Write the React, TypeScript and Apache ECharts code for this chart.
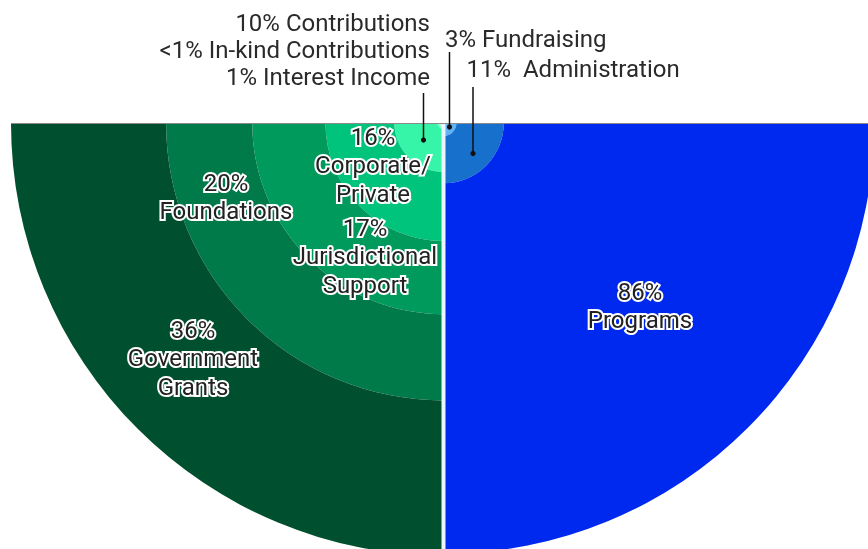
import { useEffect, useRef } from 'react';
import * as echarts from 'echarts';

// ---- data ----
const sides = ['Expenses', 'Revenue', 'Upper left', 'Upper right'];

const revenueNames = ['Interest Income', 'In-kind Contributions', 'Contributions', 'Corporate/\nPrivate', 'Jurisdictional\nSupport', 'Foundations', 'Government\nGrants'];
const revenueValues = [1, 0.4, 10, 16, 17, 20, 36];
const revenuePctText = ['1%', '<1%', '10%', '16%', '17%', '20%', '36%'];

const expenseNames = ['Fundraising', 'Administration', 'Programs'];
const expenseValues = [3, 11, 86];
const expensePctText = ['3%', '11%', '86%'];

// ---- styles / layout ----
const revenueColors = ['#a6ffdc', '#74ffca', '#36f5a8', '#00c47b', '#009a5c', '#007a48', '#00502f'];
const expenseColors = ['#5fb2f4', '#1670cc', '#0029ef'];

const CX = 443.5;
const CY = 123;
const R = 432.5;
const W = 868;
const H = 549;
const FONT = 'Roboto, "Noto Sans", sans-serif';
const FS = 24;

// positions of the labels drawn inside the bands (by series name)
const insideLabelPos: Record<string, [number, number]> = {
  'Corporate/\nPrivate': [373, 165],
  'Jurisdictional\nSupport': [365, 256],
  'Foundations': [226, 197],
  'Government\nGrants': [193, 358],
  'Programs': [640, 306],
};

// callouts: text anchor, alignment, leader line
const callouts: Record<string, { x: number; y: number; align: string; sep: string; line: [number, number, number, number] }> = {
  'Contributions': { x: 430, y: 22.5, align: 'right', sep: ' ', line: [423.5, 93, 423.5, 140] },
  'In-kind Contributions': { x: 430, y: 49.5, align: 'right', sep: ' ', line: [0, 0, 0, 0] },
  'Interest Income': { x: 430, y: 76.5, align: 'right', sep: ' ', line: [0, 0, 0, 0] },
  'Fundraising': { x: 445, y: 38.5, align: 'left', sep: ' ', line: [449.5, 52, 449.5, 127] },
  'Administration': { x: 466.5, y: 68.5, align: 'left', sep: '  ', line: [473, 87, 473, 153.5] },
};

export default function App() {
  const ref = useRef<HTMLDivElement>(null);

  useEffect(() => {
    const chart = echarts.init(ref.current!, null, { renderer: 'svg' });

    const maxTotal = Math.max(
      revenueValues.reduce((a, b) => a + b, 0),
      expenseValues.reduce((a, b) => a + b, 0)
    );

    const makeSeries = (names: string[], values: number[], colors: string[], side: string) =>
      names.map((n, i) => ({
        type: 'bar',
        coordinateSystem: 'polar',
        name: n,
        stack: 'total',
        barCategoryGap: '0%',
        silent: true,
        data: sides.map((s) => (s === side ? values[i] : '-')),
        itemStyle: { color: colors[i] },
      }));

    const series = [
      ...makeSeries(revenueNames, revenueValues, revenueColors, 'Revenue'),
      ...makeSeries(expenseNames, expenseValues, expenseColors, 'Expenses'),
    ];

    const allNames = [...revenueNames, ...expenseNames];
    const allPct = [...revenuePctText, ...expensePctText];

    const graphics: any[] = [
      {
        type: 'rect',
        z: 50,
        shape: { x: CX - 2, y: CY, width: 4, height: H - CY },
        style: { fill: '#eaf5fc' },
      },
      {
        type: 'line',
        z: 50,
        shape: { x1: CX - R, y1: CY + 0.5, x2: W, y2: CY + 0.5 },
        style: { stroke: '#8a8a8a', lineWidth: 1 },
      },
    ];

    allNames.forEach((n, i) => {
      const pos = insideLabelPos[n];
      if (pos) {
        graphics.push({
          type: 'text',
          z: 100,
          style: {
            text: `${allPct[i]}\n${n}`,
            x: pos[0],
            y: pos[1],
            align: 'center',
            verticalAlign: 'middle',
            fontSize: FS,
            fontFamily: FONT,
            lineHeight: 28.5,
            fill: '#222',
            stroke: '#fff',
            lineWidth: 4,
          },
        });
      }
      const c = callouts[n];
      if (c) {
        graphics.push({
          type: 'text',
          z: 100,
          style: {
            text: `${allPct[i]}${c.sep}${n}`,
            x: c.x,
            y: c.y,
            align: c.align,
            verticalAlign: 'middle',
            fontSize: FS,
            fontFamily: FONT,
            fill: '#2a2a2a',
            stroke: 'rgba(255,255,255,0.9)',
            lineWidth: 3,
          },
        });
        const [x1, y1, x2, y2] = c.line;
        if (y2 > y1) {
          graphics.push({
            type: 'line',
            z: 100,
            shape: { x1, y1, x2, y2 },
            style: { stroke: '#111', lineWidth: 1.5 },
          });
          graphics.push({
            type: 'circle',
            z: 101,
            shape: { cx: x2, cy: y2, r: 2.6 },
            style: { fill: '#111' },
          });
        }
      }
    });

    chart.setOption({
      animation: false,
      polar: { center: [CX, CY], radius: R },
      angleAxis: {
        type: 'category',
        data: sides,
        startAngle: 0,
        clockwise: true,
        show: false,
      },
      radiusAxis: { type: 'value', min: 0, max: maxTotal, show: false },
      series,
      graphic: { elements: graphics },
    });

    return () => chart.dispose();
  }, []);

  return <div ref={ref} style={{ position: 'fixed', left: 0, top: 0, width: W, height: H }} />;
}
